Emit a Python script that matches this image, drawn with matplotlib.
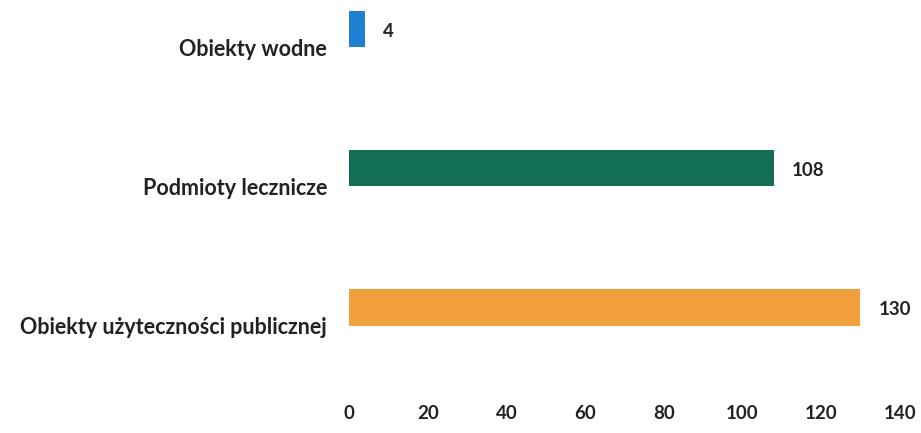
import numpy as np
import matplotlib.pyplot as plt

# Categories and values (top to bottom)
categories = ['Obiekty wodne', 'Podmioty lecznicze', 'Obiekty użyteczności publicznej']
values = [4, 108, 130]
colors = ['#1f7fd0', '#126f56', '#f2a03d']
xticks = [0, 20, 40, 60, 80, 100, 120, 140]

plt.rcParams['font.family'] = ['Lato', 'DejaVu Sans']
text_color = '#222222'

fig = plt.figure(figsize=(9.21, 4.33), dpi=100)
ax = fig.add_axes([0.379, 0.129, 0.598, 0.871])

y = np.arange(len(categories))
bars = ax.barh(y, values, height=0.26, color=colors)

for yi, v in zip(y, values):
    ax.annotate(str(v), xy=(v, yi), xytext=(18, -2), textcoords='offset pixels',
                va='center', ha='left', fontsize=13.5, fontweight='bold',
                color=text_color)

# category labels sit a bit below the bar centres in the original,
# so they are drawn as annotations instead of tick labels
ax.set_yticks(y)
ax.set_yticklabels([])
for yi, cat in zip(y, categories):
    ax.annotate(cat, xy=(0, yi), xycoords=('axes fraction', 'data'),
                xytext=(-22, -20), textcoords='offset pixels',
                ha='right', va='center', fontsize=15.5, fontweight='bold',
                color=text_color)

ax.set_xticks(xticks)
ax.set_xticklabels([str(t) for t in xticks], fontsize=13.5, fontweight='bold', color=text_color)
ax.set_xlim(0, 140)
ax.set_ylim(2.5, -0.21)

for s in ax.spines.values():
    s.set_visible(False)
ax.tick_params(axis='both', length=0)
ax.tick_params(axis='x', pad=20)

plt.savefig('out.png', dpi=100)
